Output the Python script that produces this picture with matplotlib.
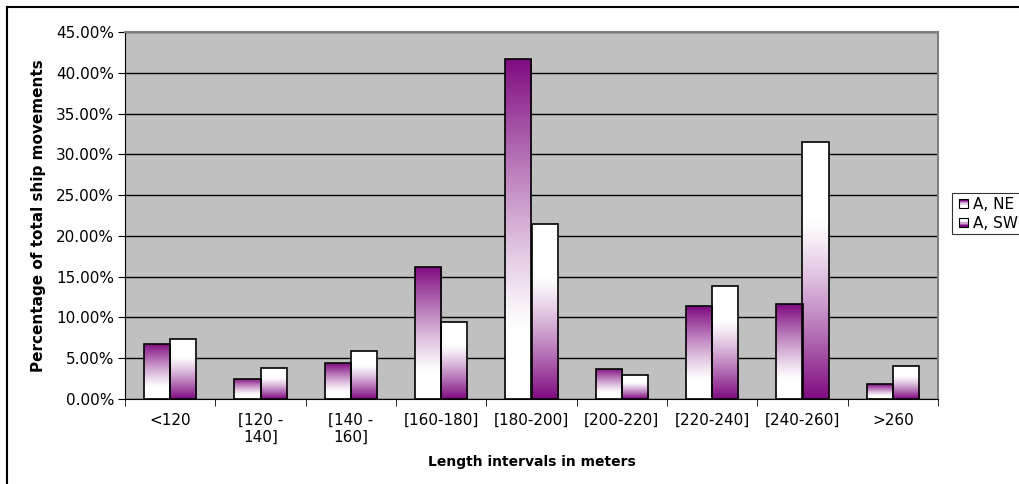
import numpy as np
import matplotlib
matplotlib.use("Agg")
import matplotlib.pyplot as plt
from matplotlib.patches import Rectangle
from matplotlib.legend_handler import HandlerBase
from matplotlib.colors import to_rgb

categories = ["<120", "[120 -\n140]", "[140 -\n160]", "[160-180]", "[180-200]",
              "[200-220]", "[220-240]", "[240-260]", ">260"]
ne_vals = [6.8, 2.5, 4.4, 16.2, 41.7, 3.7, 11.4, 11.6, 1.8]
sw_vals = [7.4, 3.8, 5.9, 9.5, 21.4, 2.9, 13.8, 31.5, 4.0]
series_names = ["A, NE", "A, SW"]

purple = np.array(to_rgb("#7f0a80"))
white = np.array([1.0, 1.0, 1.0])


def grad_image(top_purple, n=200):
    t = np.linspace(0, 1, n)  # 0 = top, 1 = bottom
    if top_purple:
        f = np.clip(1 - t / 0.8, 0, 1)
    else:
        f = np.clip((t - 0.3) / 0.7, 0, 1)
    f = f ** 1.2
    col = white[None, :] * (1 - f[:, None]) + purple[None, :] * f[:, None]
    return col[:, None, :]


plt.rcParams['font.family'] = ['DejaVu Sans']
fig = plt.figure(figsize=(10.2, 4.84), dpi=100)
ax = fig.add_axes([125 / 1020, 1 - 399 / 484, (938 - 125) / 1020, (399 - 32) / 484])
ax.set_facecolor("#c0c0c0")

x = np.arange(len(categories))
w = 0.288
bars_ne = ax.bar(x - w / 2, ne_vals, w, facecolor="none", edgecolor="black", lw=1.2, zorder=3)
bars_sw = ax.bar(x + w / 2, sw_vals, w, facecolor="none", edgecolor="black", lw=1.2, zorder=3)

for bars, top_purple in [(bars_ne, True), (bars_sw, False)]:
    img = grad_image(top_purple)
    for b in bars:
        x0, y0 = b.get_x(), b.get_y()
        im = ax.imshow(img, extent=[x0, x0 + b.get_width(), y0, y0 + b.get_height()],
                       aspect="auto", zorder=2, interpolation="bilinear")
        im.set_clip_path(b)
        b.set_zorder(4)

ax.set_xlim(-0.5, len(categories) - 0.5)
ax.set_ylim(0, 45)
ax.set_yticks(np.arange(0, 46, 5))
ax.set_yticklabels([f"{v:.2f}%" for v in np.arange(0, 46, 5)], fontsize=11)
ax.yaxis.grid(True, color="black", lw=1.0, zorder=1)
ax.set_axisbelow(True)

ax.set_xticks(x)
ax.set_xticklabels(categories, fontsize=11, linespacing=1.2)
ax.set_xticks(np.arange(-0.5, len(categories)), minor=True)
ax.tick_params(axis="x", which="major", length=0, pad=10)
ax.tick_params(axis="x", which="minor", length=5, direction="out", color="black")
ax.tick_params(axis="y", length=5, direction="out", pad=3)

for side in ["top", "right"]:
    ax.spines[side].set_color("#808080")
    ax.spines[side].set_linewidth(1.5)
ax.spines["left"].set_color("black")
ax.spines["bottom"].set_color("black")

ax.set_xlabel("Length intervals in meters", fontsize=10, fontweight="bold", labelpad=7)
ax.set_ylabel("Percentage of total ship movements", fontsize=11, fontweight="bold", labelpad=7)


class GradHandler(HandlerBase):
    def __init__(self, top_purple):
        super().__init__()
        self.top_purple = top_purple

    def create_artists(self, legend, orig_handle, xdescent, ydescent, width, height, fontsize, trans):
        arts = []
        s = height * 0.8
        x0 = -xdescent + width - s
        y0 = -ydescent + (height - s) / 2
        img = grad_image(self.top_purple, n=6)[:, 0, :]
        n = len(img)
        for i in range(n):
            r = Rectangle((x0, y0 + s * (n - 1 - i) / n), s, s / n, facecolor=img[i],
                          edgecolor="none", transform=trans)
            arts.append(r)
        arts.append(Rectangle((x0, y0), s, s, facecolor="none", edgecolor="black", lw=0.8, transform=trans))
        return arts


leg = fig.legend([bars_ne, bars_sw], series_names, loc="upper left",
                 bbox_to_anchor=(952 / 1020, 1 - 193 / 484), fontsize=11,
                 handler_map={bars_ne: GradHandler(True), bars_sw: GradHandler(False)},
                 frameon=True, fancybox=False, borderpad=0.25, handlelength=0.8,
                 handletextpad=0.3, labelspacing=0.25, borderaxespad=0)
leg.get_frame().set_edgecolor("black")
leg.get_frame().set_linewidth(0.8)

# outer chart border (top and left visible)
fig.add_artist(plt.Line2D([7 / 1020, 7 / 1020], [0, 1 - 7 / 484], color="black", lw=1.5,
                          transform=fig.transFigure))
fig.add_artist(plt.Line2D([7 / 1020, 1], [1 - 7 / 484, 1 - 7 / 484], color="black", lw=1.5,
                          transform=fig.transFigure))

fig.savefig("out.png", dpi=100)
